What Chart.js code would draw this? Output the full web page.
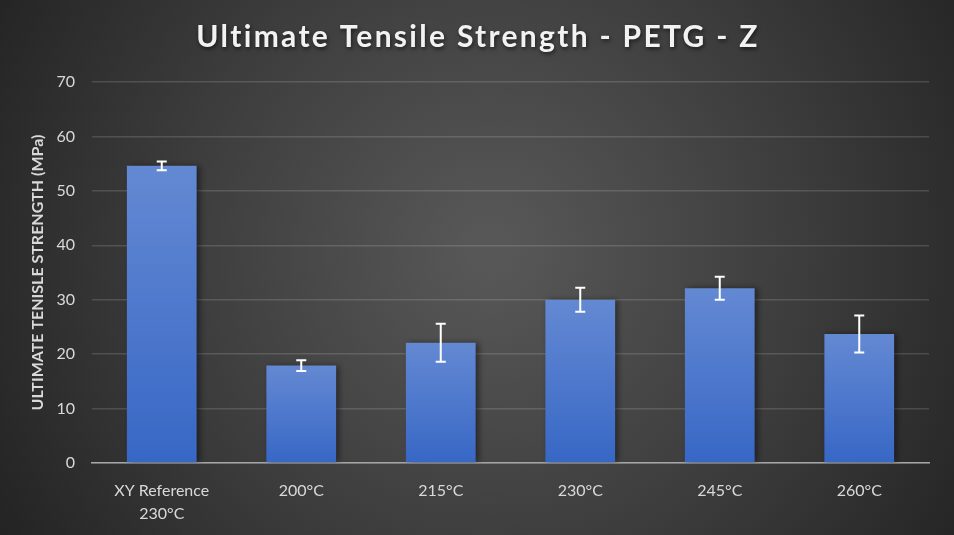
<!DOCTYPE html>
<html lang="en">
<head>
    <meta charset="UTF-8">
    <title>Ultimate Tensile Strength - PETG - Z</title>
    <script src="https://cdn.jsdelivr.net/npm/chart.js@4.4.1/dist/chart.umd.min.js"></script>
    <style>
        html, body {
            margin: 0;
            padding: 0;
            background: #2b2b2b;
        }
        .wrap {
            width: 954px;
            height: 535px;
        }
    </style>
</head>
<body>
    <div class="wrap">
        <canvas id="utsChart" width="954" height="535"></canvas>
    </div>

    <script>
        // data
        const categories = [['XY Reference', '230°C'], '200°C', '215°C', '230°C', '245°C', '260°C'];
        const strength = [54.6, 17.9, 22.1, 30.0, 32.1, 23.7];
        const strengthErr = [0.8, 1.0, 3.5, 2.2, 2.1, 3.4];
        const yTicks = [0, 10, 20, 30, 40, 50, 60, 70];

        const titleText = 'Ultimate Tensile Strength - PETG - Z';

        // dark radial background + title
        const backdrop = {
            id: 'backdrop',
            beforeDraw(chart) {
                const { ctx, width, height } = chart;
                ctx.save();
                const g = ctx.createRadialGradient(490, 250, 20, 490, 250, 560);
                g.addColorStop(0, '#575757');
                g.addColorStop(0.55, '#3c3c3c');
                g.addColorStop(1, '#242424');
                ctx.fillStyle = g;
                ctx.fillRect(0, 0, width, height);

                ctx.font = 'bold 30px Lato';
                ctx.letterSpacing = '2.3px';
                ctx.textAlign = 'center';
                ctx.textBaseline = 'middle';
                ctx.shadowColor = 'rgba(0,0,0,0.6)';
                ctx.shadowBlur = 4;
                ctx.shadowOffsetX = 1;
                ctx.shadowOffsetY = 2;
                ctx.fillStyle = '#f2f2f2';
                ctx.fillText(titleText, 478, 37);
                ctx.restore();
            },
            beforeDatasetsDraw(chart) {
                const ctx = chart.ctx;
                ctx.save();
                ctx.shadowColor = 'rgba(0,0,0,0.45)';
                ctx.shadowBlur = 6;
                ctx.shadowOffsetX = 3;
                ctx.shadowOffsetY = 0;
            },
            afterDatasetsDraw(chart) {
                chart.ctx.restore();
            }
        };

        // white error bars, drawn through the y scale
        const errorBars = {
            id: 'errorBars',
            afterDatasetsDraw(chart) {
                const { ctx } = chart;
                const y = chart.scales.y;
                const meta = chart.getDatasetMeta(0);
                ctx.save();
                ctx.strokeStyle = '#ffffff';
                ctx.lineWidth = 2;
                meta.data.forEach((bar, i) => {
                    const top = y.getPixelForValue(strength[i] + strengthErr[i]);
                    const bot = y.getPixelForValue(strength[i] - strengthErr[i]);
                    const x = bar.x;
                    ctx.beginPath();
                    ctx.moveTo(x, top);
                    ctx.lineTo(x, bot);
                    ctx.moveTo(x - 5, top);
                    ctx.lineTo(x + 5, top);
                    ctx.moveTo(x - 5, bot);
                    ctx.lineTo(x + 5, bot);
                    ctx.stroke();
                });
                ctx.restore();
            }
        };

        function barFill(context) {
            const chart = context.chart;
            if (!chart.chartArea) return '#4472c4';
            const y = chart.scales.y;
            const top = y.getPixelForValue(strength[context.dataIndex]);
            const bottom = y.getPixelForValue(0);
            const g = chart.ctx.createLinearGradient(0, top, 0, bottom);
            g.addColorStop(0, '#6489d3');
            g.addColorStop(1, '#3767c5');
            return g;
        }

        const ctx = document.getElementById('utsChart').getContext('2d');
        new Chart(ctx, {
            type: 'bar',
            data: {
                labels: categories,
                datasets: [{
                    label: 'Ultimate Tensile Strength',
                    data: strength,
                    backgroundColor: barFill,
                    borderWidth: 0,
                    barPercentage: 0.5,
                    categoryPercentage: 1.0
                }]
            },
            options: {
                responsive: false,
                animation: false,
                layout: {
                    padding: { top: 82, right: 25, left: 0, bottom: 0 }
                },
                plugins: {
                    legend: { display: false },
                    title: { display: false },
                    tooltip: { enabled: false }
                },
                scales: {
                    x: {
                        grid: { display: false },
                        border: { display: true, color: '#a6a6a6', width: 1.5 },
                        ticks: {
                            color: '#d9d9d9',
                            font: { family: 'Lato', size: 16, lineHeight: 1.4 },
                            padding: 9,
                            maxRotation: 0
                        },
                        afterFit(scale) { scale.height = 72; }
                    },
                    y: {
                        min: 0,
                        max: 70,
                        afterBuildTicks(scale) {
                            scale.ticks = yTicks.map(v => ({ value: v }));
                        },
                        grid: {
                            color: 'rgba(255,255,255,0.14)',
                            lineWidth: 1.5,
                            drawTicks: false
                        },
                        border: { display: false },
                        ticks: {
                            color: '#d9d9d9',
                            font: { family: 'Lato', size: 16 },
                            padding: 17
                        },
                        title: {
                            display: true,
                            text: 'ULTIMATE TENISLE STRENGTH (MPa)',
                            color: '#d9d9d9',
                            font: { family: 'Lato', size: 16, weight: 'bold' },
                            padding: { top: 28, bottom: 0 }
                        },
                        afterFit(scale) { scale.width = 92; }
                    }
                }
            },
            plugins: [backdrop, errorBars]
        });
    </script>
</body>
</html>
